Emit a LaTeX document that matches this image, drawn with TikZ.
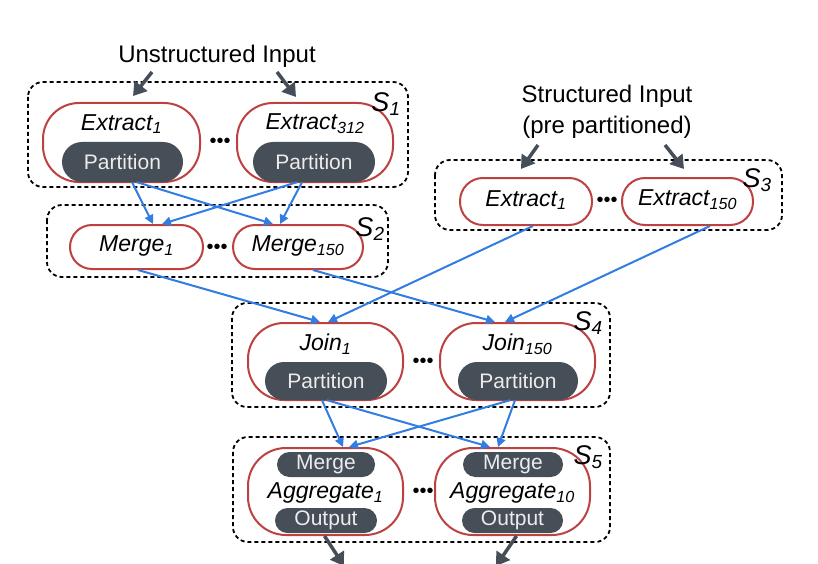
\documentclass[tikz,border=0pt]{standalone}
\usepackage{fontspec}
\setmainfont{Liberation Sans}
\usetikzlibrary{arrows.meta,calc}
\definecolor{boxred}{RGB}{190,65,65}
\definecolor{pillgray}{RGB}{70,78,88}
\definecolor{pilltext}{RGB}{236,236,236}
\definecolor{flowblue}{RGB}{50,125,225}
\definecolor{arrgray}{RGB}{70,78,88}
\begin{document}
\begin{tikzpicture}[x=1pt,y=-1pt,
  stage/.style={draw=black, line width=1.8pt, dash pattern=on 4pt off 3pt, rounded corners=15pt},
  opbox/.style={draw=boxred, line width=2pt, fill=white, rounded corners=#1, inner sep=0pt},
  pill/.style={fill=pillgray, text=pilltext, rounded corners=#1, inner sep=0pt, font=\fontsize{21}{24}\selectfont},
  optext/.style={inner sep=0pt, font=\fontsize{23}{27}\selectfont\itshape},
  slabel/.style={inner sep=0pt, font=\fontsize{27}{30}\selectfont\itshape},
  intext/.style={inner sep=0pt, align=center, font=\fontsize{24}{31}\selectfont},
  dots/.style={inner sep=0pt, font=\fontsize{20}{20}\selectfont},
  inarrow/.style={draw=arrgray, line width=3.5pt, -{Triangle[width=16pt,length=13pt]}},
  flow/.style={draw=flowblue, line width=2pt, -{Triangle[width=9pt,length=9pt]}}
]
\useasboundingbox (0,0) rectangle (818,564);

% ---------- stage S1 ----------
\draw[stage] (28,82) rectangle (408,187);
\node[opbox=36pt, minimum width=157pt, minimum height=79pt] (e1) at (121.5,142.5) {};
\node[opbox=36pt, minimum width=156pt, minimum height=79pt] (e312) at (315,142.5) {};
\node[optext] (e1t) at (121.5,124) {Extract\textsubscript{1}};
\node[optext] (e312t) at (315,124) {Extract\textsubscript{312}};
\node[pill=20pt, minimum width=121pt, minimum height=40pt] (p1) at (122.5,162) {Partition};
\node[pill=20pt, minimum width=122pt, minimum height=40pt] (p312) at (314,162) {Partition};
\node[dots] (d1) at (220,143) {•••};
\node[slabel] (s1) at (386,104) {S\textsubscript{1}};

% ---------- stage S2 ----------
\draw[stage] (47,205) rectangle (388,277);
\node[opbox=22pt, minimum width=133pt, minimum height=44pt] (m1) at (136.5,247) {};
\node[opbox=22pt, minimum width=130pt, minimum height=44pt] (m150) at (298,247) {};
\node[optext] (m1t) at (136.5,246) {Merge\textsubscript{1}};
\node[optext] (m150t) at (298,246) {Merge\textsubscript{150}};
\node[dots] (d2) at (217,249) {•••};
\node[slabel] (s2) at (370,229) {S\textsubscript{2}};

% ---------- stage S3 ----------
\draw[stage] (435,160) rectangle (782,230);
\node[opbox=23pt, minimum width=132pt, minimum height=47pt] (se1) at (526,201.5) {};
\node[opbox=23pt, minimum width=131pt, minimum height=47pt] (se150) at (687.5,201.5) {};
\node[optext] (se1t) at (526,200) {Extract\textsubscript{1}};
\node[optext] (se150t) at (687.5,200) {Extract\textsubscript{150}};
\node[dots] (d3) at (607,202) {•••};
\node[slabel] (s3) at (757,180) {S\textsubscript{3}};

% ---------- stage S4 ----------
\draw[stage] (232,303) rectangle (610,407);
\node[opbox=36pt, minimum width=155pt, minimum height=77pt] (j1) at (325.5,361.5) {};
\node[opbox=36pt, minimum width=155pt, minimum height=77pt] (j150) at (517.5,361.5) {};
\node[optext] (j1t) at (325.5,344) {Join\textsubscript{1}};
\node[optext] (j150t) at (517.5,344) {Join\textsubscript{150}};
\node[pill=19pt, minimum width=122pt, minimum height=38pt] (pj1) at (326,381) {Partition};
\node[pill=19pt, minimum width=120pt, minimum height=38pt] (pj150) at (518,381) {Partition};
\node[dots] (d4) at (423,363) {•••};
\node[slabel] (s4) at (588,323) {S\textsubscript{4}};

% ---------- stage S5 ----------
\draw[stage] (233,437) rectangle (610,542);
\node[opbox=38pt, minimum width=155pt, minimum height=87pt] (a1) at (325.5,491.5) {};
\node[opbox=38pt, minimum width=155pt, minimum height=87pt] (a10) at (512.5,491.5) {};
\node[optext] (a1t) at (325.5,493) {Aggregate\textsubscript{1}};
\node[optext] (a10t) at (512.5,493) {Aggregate\textsubscript{10}};
\node[pill=12.5pt, minimum width=98pt, minimum height=25pt] (am1) at (326,464.5) {Merge};
\node[pill=12.5pt, minimum width=100pt, minimum height=25pt] (am10) at (513,464.5) {Merge};
\node[pill=12.5pt, minimum width=102pt, minimum height=25pt] (ao1) at (326,520.5) {Output};
\node[pill=12.5pt, minimum width=101pt, minimum height=25pt] (ao10) at (512.5,520.5) {Output};
\node[dots] (d5) at (423,493) {•••};
\node[slabel] (s5) at (588,457) {S\textsubscript{5}};

% ---------- inputs ----------
\node[intext] (uin) at (217,56) {Unstructured Input};
\node[intext] (sin) at (607,112) {Structured Input\\(pre partitioned)};
\coordinate (u1s) at (152,72);
\coordinate (u1e) at (133,96);
\coordinate (u2s) at (277,72);
\coordinate (u2e) at (296,97);
\coordinate (st1s) at (538,145);
\coordinate (st1e) at (521,169);
\coordinate (st2s) at (665,145);
\coordinate (st2e) at (684,169);
\draw[inarrow] (u1s) -- (u1e);
\draw[inarrow] (u2s) -- (u2e);
\draw[inarrow] (st1s) -- (st1e);
\draw[inarrow] (st2s) -- (st2e);

% ---------- outputs ----------
\coordinate (o1) at (344,566);
\coordinate (o2) at (496,566);
\draw[inarrow] ([xshift=-1pt]a1.south) -- (o1);
\draw[inarrow] ([xshift=4pt]a10.south) -- (o2);

% ---------- data flow ----------
\draw[flow] ([xshift=9.5pt]p1.south) -- ([xshift=16.5pt]m1.north);
\draw[flow] ([xshift=14.5pt]p1.south) -- ([xshift=-25pt]m150.north);
\draw[flow] ([xshift=-17pt]p312.south) -- ([xshift=25.5pt]m1.north);
\draw[flow] ([xshift=-12pt]p312.south) -- ([xshift=-18pt]m150.north);

\draw[flow] ([xshift=1.5pt]m1.south) -- ([xshift=-5.5pt]j1.north);
\draw[flow] ([xshift=7pt]se1.south) -- ([xshift=2.5pt]j1.north);
\draw[flow] ([xshift=15pt]m150.south) -- ([xshift=-22.5pt]j150.north);
\draw[flow] ([xshift=22.5pt]se150.south) -- ([xshift=-12.5pt]j150.north);

\draw[flow] ([xshift=-4pt]pj1.south) -- ([xshift=17.5pt]a1.north);
\draw[flow] ([xshift=1pt]pj1.south) -- ([xshift=-22.5pt]a10.north);
\draw[flow] ([xshift=-8pt]pj150.south) -- ([xshift=23.5pt]a1.north);
\draw[flow] ([xshift=-3pt]pj150.south) -- ([xshift=-14.5pt]a10.north);
\end{tikzpicture}
\end{document}
